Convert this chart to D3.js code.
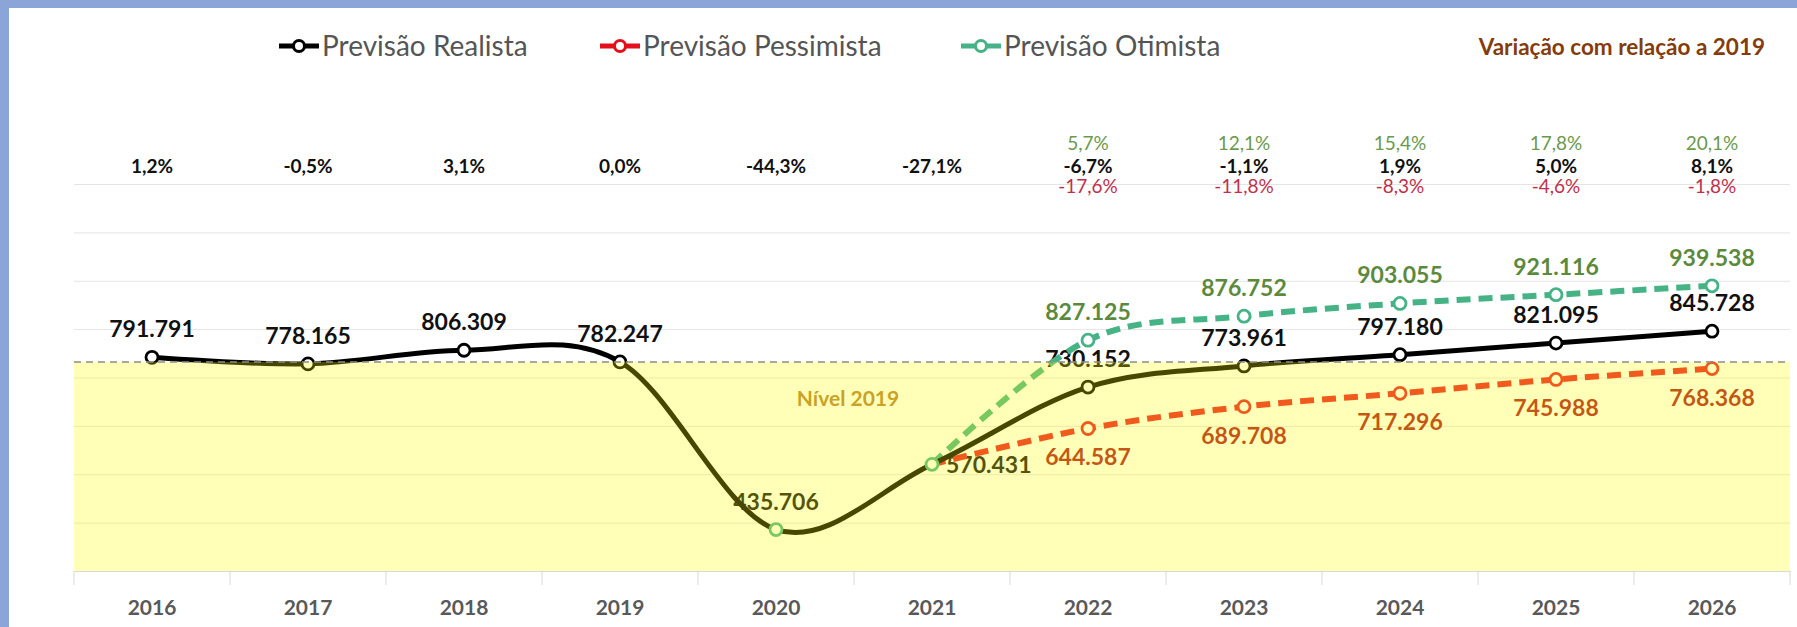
<!DOCTYPE html>
<html>
<head>
<meta charset="utf-8">
<script src="https://cdn.jsdelivr.net/npm/d3@7"></script>
<style>
  body { margin: 0; background: #fff; }
  svg { display: block; }
  text { font-family: Lato, "Open Sans", sans-serif; }
</style>
</head>
<body>
<script>
const years = [2016, 2017, 2018, 2019, 2020, 2021, 2022, 2023, 2024, 2025, 2026];
const realista = [791.791, 778.165, 806.309, 782.247, 435.706, 570.431, 730.152, 773.961, 797.180, 821.095, 845.728];
const forecastYears = [2021, 2022, 2023, 2024, 2025, 2026];
const otimista = [570.431, 827.125, 876.752, 903.055, 921.116, 939.538];
const pessimista = [570.431, 644.587, 689.708, 717.296, 745.988, 768.368];
const varRealista = ["1,2%", "-0,5%", "3,1%", "0,0%", "-44,3%", "-27,1%", "-6,7%", "-1,1%", "1,9%", "5,0%", "8,1%"];
const varYears = [2022, 2023, 2024, 2025, 2026];
const varOtimista = ["5,7%", "12,1%", "15,4%", "17,8%", "20,1%"];
const varPessimista = ["-17,6%", "-11,8%", "-8,3%", "-4,6%", "-1,8%"];
const yTicks = [350, 450, 550, 650, 750, 850, 950, 1050, 1150];
const nivel2019 = 782.247;
const greenMarkerYears = [2020, 2021];

const width = 1797, height = 627;
const plotLeft = 74, plotRight = 1790, plotTop = 184, plotBottom = 571;

const fmt = v => v.toFixed(3);
const cGreen = "#45b386", cRed = "#ea1d29";

const svg = d3.select("body").append("svg")
  .attr("width", width)
  .attr("height", height);

// frame
svg.append("rect").attr("x", 0).attr("y", 0).attr("width", width).attr("height", 8).attr("fill", "#8ca5d8");
svg.append("rect").attr("x", 0).attr("y", 0).attr("width", 9).attr("height", height).attr("fill", "#8ca5d8");

const x = d3.scaleBand().domain(years).range([plotLeft, plotRight]);
const xc = d => x(d) + x.bandwidth() / 2;
const y = d3.scaleLinear().domain([350, 1150]).range([plotBottom, plotTop]);

// gridlines
const grid = svg.append("g")
  .attr("transform", `translate(${plotLeft},0)`)
  .call(d3.axisLeft(y).tickValues(yTicks).tickSize(-(plotRight - plotLeft)).tickFormat(""));
grid.select(".domain").remove();
grid.selectAll("line").attr("stroke", "#e4e4e4");

// bottom axis
const xAxis = svg.append("g")
  .attr("transform", `translate(0,${plotBottom})`)
  .call(d3.axisBottom(x).tickSize(0).tickPadding(29));
xAxis.select(".domain").attr("stroke", "#d9d9d9");
xAxis.selectAll("text")
  .attr("font-size", 21)
  .attr("font-weight", "bold")
  .attr("fill", "#595959")
  .style("font-family", "Lato, sans-serif");
svg.append("g").selectAll("line")
  .data(years.map(d => x(d)).concat([plotRight]))
  .join("line")
  .attr("x1", d => d).attr("x2", d => d)
  .attr("y1", plotBottom).attr("y2", plotBottom + 14)
  .attr("stroke", "#d9d9d9");

// value labels (under the lines)
const labels = svg.append("g").attr("font-size", 23).attr("font-weight", "bold");
labels.selectAll(".lr")
  .data(years.map((d, i) => ({ year: d, v: realista[i] })))
  .join("text")
  .attr("x", d => d.year === 2021 ? xc(d.year) + 14 : xc(d.year))
  .attr("y", d => d.year === 2021 ? y(d.v) + 9 : y(d.v) - 20)
  .attr("text-anchor", d => d.year === 2021 ? "start" : "middle")
  .attr("fill", "#111")
  .text(d => fmt(d.v));
labels.selectAll(".lo")
  .data(forecastYears.map((d, i) => ({ year: d, v: otimista[i] })).slice(1))
  .join("text")
  .attr("x", d => xc(d.year))
  .attr("y", d => y(d.v) - 20)
  .attr("text-anchor", "middle")
  .attr("fill", "#5b8a3c")
  .text(d => fmt(d.v));
labels.selectAll(".lp")
  .data(forecastYears.map((d, i) => ({ year: d, v: pessimista[i] })).slice(1))
  .join("text")
  .attr("x", d => xc(d.year))
  .attr("y", d => y(d.v) + 37)
  .attr("text-anchor", "middle")
  .attr("fill", "#ad1622")
  .text(d => fmt(d.v));

// lines
const line = d3.line()
  .x(d => xc(d.year))
  .y(d => y(d.v))
  .curve(d3.curveCardinal.tension(0));

const realData = years.map((d, i) => ({ year: d, v: realista[i] }));
const optData = forecastYears.map((d, i) => ({ year: d, v: otimista[i] }));
const pesData = forecastYears.map((d, i) => ({ year: d, v: pessimista[i] }));

svg.append("path").datum(pesData)
  .attr("d", line).attr("fill", "none")
  .attr("stroke", cRed).attr("stroke-width", 6).attr("stroke-dasharray", "14,8");
svg.append("path").datum(optData)
  .attr("d", line).attr("fill", "none")
  .attr("stroke", cGreen).attr("stroke-width", 6).attr("stroke-dasharray", "14,8");
svg.append("path").datum(realData)
  .attr("d", line).attr("fill", "none")
  .attr("stroke", "#000").attr("stroke-width", 5);

// markers
const marker = (data, color) => svg.append("g").selectAll("circle")
  .data(data).join("circle")
  .attr("cx", d => xc(d.year)).attr("cy", d => y(d.v)).attr("r", 6)
  .attr("fill", "#fff").attr("stroke-width", 2.8)
  .attr("stroke", typeof color === "function" ? color : () => color);
marker(pesData.slice(1), cRed);
marker(optData.slice(1), cGreen);
marker(realData, d => greenMarkerYears.includes(d.year) ? cGreen : "#000");

// translucent "below 2019" band, drawn over the series
svg.append("rect")
  .attr("x", plotLeft).attr("y", y(nivel2019))
  .attr("width", plotRight - plotLeft).attr("height", plotBottom - y(nivel2019))
  .attr("fill", "#ffff00").attr("opacity", 0.28);

svg.append("line")
  .attr("x1", plotLeft).attr("x2", plotRight)
  .attr("y1", y(nivel2019)).attr("y2", y(nivel2019))
  .attr("stroke", "#8c8c8c").attr("stroke-width", 1.5).attr("stroke-dasharray", "7,5");

svg.append("text")
  .attr("x", 848).attr("y", 406)
  .attr("text-anchor", "middle")
  .attr("font-size", 21).attr("font-weight", "bold")
  .attr("fill", "#c9a227")
  .text("Nível 2019");

// variation rows
const pct = svg.append("g").attr("font-size", 19).attr("text-anchor", "middle");
pct.selectAll(".pr").data(years).join("text")
  .attr("x", d => xc(d)).attr("y", 173)
  .attr("font-weight", "bold").attr("fill", "#111")
  .text((d, i) => varRealista[i]);
pct.selectAll(".po").data(varYears).join("text")
  .attr("x", d => xc(d)).attr("y", 150)
  .attr("fill", "#6a9a4a")
  .text((d, i) => varOtimista[i]);
pct.selectAll(".pp").data(varYears).join("text")
  .attr("x", d => xc(d)).attr("y", 193)
  .attr("fill", "#c0304a")
  .text((d, i) => varPessimista[i]);

// legend
const legendItems = [
  { name: "Previsão Realista", color: "#000", x: 279 },
  { name: "Previsão Pessimista", color: "#e3101b", x: 600 },
  { name: "Previsão Otimista", color: cGreen, x: 961 }
];
const lg = svg.append("g").selectAll("g").data(legendItems).join("g")
  .attr("transform", d => `translate(${d.x},46)`);
lg.append("line").attr("x1", 0).attr("x2", 40).attr("y1", 0).attr("y2", 0)
  .attr("stroke", d => d.color).attr("stroke-width", 5);
lg.append("circle").attr("cx", 20).attr("cy", 0).attr("r", 5.5)
  .attr("fill", "#fff").attr("stroke", d => d.color).attr("stroke-width", 3);
lg.append("text").attr("x", 43).attr("y", 10)
  .attr("font-size", 28).attr("fill", "#555")
  .text(d => d.name);

svg.append("text")
  .attr("x", 1765).attr("y", 55)
  .attr("text-anchor", "end")
  .attr("font-size", 22.5).attr("font-weight", "bold")
  .attr("fill", "#843c0c")
  .text("Variação com relação a 2019");
</script>
</body>
</html>
